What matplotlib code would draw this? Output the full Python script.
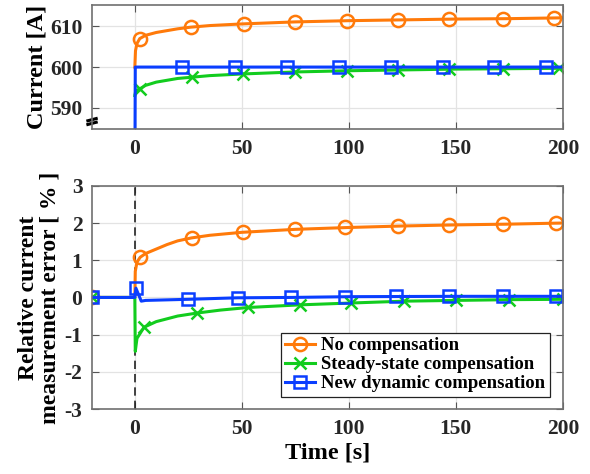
import matplotlib
matplotlib.use("Agg")
import matplotlib.pyplot as plt
from matplotlib.lines import Line2D

plt.rcParams['font.family'] = ['Liberation Serif', 'DejaVu Serif']
plt.rcParams['font.weight'] = 'bold'
plt.rcParams['mathtext.default'] = 'regular'

C_OR = '#FF7A0A'
C_GR = '#12CC1E'
C_BL = '#0A3EFF'

labels = ['No compensation', 'Steady-state compensation', 'New dynamic compensation']

# ---- Top panel: current [A] ----
top_or_t = [0, 0.3, 1, 2.3, 5, 10, 20, 26, 35, 50, 75, 100, 125, 150, 175, 200]
top_or_v = [600, 604.0, 605.8, 607.0, 607.8, 608.5, 609.4, 609.8, 610.2, 610.6, 611.1, 611.4, 611.6, 611.8, 611.9, 612.1]
top_or_mt = [2.3, 26.4, 51, 75, 99, 123, 147, 172, 196]
top_or_mv = [607.0, 609.8, 610.6, 611.1, 611.4, 611.6, 611.8, 611.9, 612.1]

top_gr_t = [0, 0.3, 1, 2.5, 5, 10, 20, 26.5, 35, 50, 75, 100, 125, 150, 175, 200]
top_gr_v = [593.0, 593.8, 594.3, 594.7, 595.5, 596.3, 597.2, 597.5, 597.9, 598.3, 598.8, 599.1, 599.3, 599.5, 599.6, 599.7]
top_gr_mt = [2.5, 26.5, 50.5, 75, 99, 123, 147, 172, 198]
top_gr_mv = [594.7, 597.5, 598.3, 598.8, 599.1, 599.3, 599.5, 599.6, 599.7]

top_bl_t = [0, 0.2, 200]
top_bl_v = [570, 600, 600]
top_bl_mt = [22, 47, 71, 95.5, 119.5, 144, 168, 192]
top_bl_mv = [600, 600, 600, 600, 600, 600, 600, 600]

# ---- Bottom panel: relative error [%] ----
bot_or_t = [-20, 0, 0.2, 1, 2.5, 5, 10, 15, 20, 26.5, 35, 50, 75, 100, 125, 150, 175, 200]
bot_or_v = [0, 0, 0.7, 0.95, 1.08, 1.18, 1.3, 1.42, 1.52, 1.6, 1.67, 1.75, 1.83, 1.88, 1.92, 1.95, 1.97, 2.0]
bot_or_mt = [-20, 2.5, 26.5, 50.5, 75, 98, 123, 147, 172, 197]
bot_or_mv = [0, 1.08, 1.6, 1.75, 1.83, 1.88, 1.92, 1.95, 1.97, 2.0]

bot_gr_t = [-20, 0, 0.2, 1, 4.3, 10, 20, 29, 40, 53, 77, 101, 126, 150, 175, 200]
bot_gr_v = [0, 0, -1.45, -1.1, -0.8, -0.65, -0.5, -0.42, -0.34, -0.27, -0.2, -0.15, -0.1, -0.08, -0.06, -0.05]
bot_gr_mt = [-20, 4.3, 29, 53, 77, 101, 126, 150, 175, 200]
bot_gr_mv = [0, -0.8, -0.42, -0.27, -0.2, -0.15, -0.1, -0.08, -0.06, -0.05]

bot_bl_t = [-20, 0, 0.5, 3, 5, 25, 48, 73, 100, 150, 200]
bot_bl_v = [0, 0, 0.25, -0.1, -0.08, -0.05, -0.01, 0.0, 0.02, 0.03, 0.03]
bot_bl_mt = [-20, 0.5, 25, 48, 73, 98, 122, 147, 172, 197]
bot_bl_mv = [0, 0.25, -0.05, -0.01, 0.0, 0.02, 0.03, 0.03, 0.03, 0.03]

xticks = [0, 50, 100, 150, 200]
top_yticks = [590, 600, 610]
bot_yticks = [-3, -2, -1, 0, 1, 2, 3]

fig = plt.figure(figsize=(5.9, 4.74), dpi=100)
ax1 = fig.add_axes([0.156, 0.728, 0.798, 0.261])
ax2 = fig.add_axes([0.156, 0.137, 0.798, 0.471])

lw = 2.2
ms_c, ms_s, ms_x = 9.5, 8.5, 8
mew = 1.8
TICK_FS = 15.5

def style(ax):
    ax.grid(True, color='#E3E3E3', linewidth=0.9)
    ax.set_axisbelow(True)
    for s in ax.spines.values():
        s.set_color('#707070')
        s.set_linewidth(1.2)
    ax.tick_params(direction='in', top=True, right=True, length=5,
                   colors='#555555', labelcolor='#262626', labelsize=TICK_FS, pad=7)
    for lab in ax.get_xticklabels() + ax.get_yticklabels():
        lab.set_fontweight('bold')

# top
ax1.plot(top_or_t, top_or_v, color=C_OR, lw=lw)
ax1.plot(top_or_mt, top_or_mv, ls='none', marker='o', ms=ms_c, mfc='none', mec=C_OR, mew=mew)
ax1.plot(top_gr_t, top_gr_v, color=C_GR, lw=lw)
ax1.plot(top_gr_mt, top_gr_mv, ls='none', marker='x', ms=ms_x, mec=C_GR, mew=mew)
ax1.plot(top_bl_t, top_bl_v, color=C_BL, lw=lw)
ax1.plot(top_bl_mt, top_bl_mv, ls='none', marker='s', ms=ms_s, mfc='none', mec=C_BL, mew=mew)
ax1.set_xlim(-20, 200)
ax1.set_ylim(584.8, 615.2)
ax1.set_xticks(xticks)
ax1.set_yticks(top_yticks)
ax1.set_ylabel('Current [A]', fontsize=17.5, fontweight='bold', labelpad=2)
style(ax1)
# axis break mark
for yc in (0.045, 0.075):
    ax1.plot([-0.012, 0.012], [yc - 0.012, yc + 0.012], transform=ax1.transAxes,
             color='black', lw=2.2, clip_on=False, solid_capstyle='butt')

# bottom
ax2.axvline(0, color='#222222', lw=1.2, ls=(0, (5, 3)))
ax2.plot(bot_or_t, bot_or_v, color=C_OR, lw=lw)
ax2.plot(bot_or_mt, bot_or_mv, ls='none', marker='o', ms=ms_c, mfc='none', mec=C_OR, mew=mew)
ax2.plot(bot_gr_t, bot_gr_v, color=C_GR, lw=lw)
ax2.plot(bot_gr_mt, bot_gr_mv, ls='none', marker='x', ms=ms_x, mec=C_GR, mew=mew)
ax2.plot(bot_bl_t, bot_bl_v, color=C_BL, lw=lw)
ax2.plot(bot_bl_mt, bot_bl_mv, ls='none', marker='s', ms=ms_s, mfc='none', mec=C_BL, mew=mew)
ax2.set_xlim(-20, 200)
ax2.set_ylim(-3, 3)
ax2.set_xticks(xticks)
ax2.set_yticks(bot_yticks)
ax2.set_yticklabels([str(v) for v in bot_yticks])
ax2.set_xlabel('Time [s]', fontsize=17.5, fontweight='bold', labelpad=3)
ax2.set_ylabel('Relative current\nmeasurement error [ % ]', fontsize=17,
               fontweight='bold', labelpad=3, linespacing=1.0)
style(ax2)

handles = [
    Line2D([], [], color=C_OR, lw=lw, marker='o', ms=ms_c, mfc='none', mec=C_OR, mew=mew),
    Line2D([], [], color=C_GR, lw=lw, marker='x', ms=ms_x, mec=C_GR, mew=mew),
    Line2D([], [], color=C_BL, lw=lw, marker='s', ms=ms_s, mfc='none', mec=C_BL, mew=mew),
]
leg = ax2.legend(handles, labels, loc='lower right', bbox_to_anchor=(0.972, 0.054),
                 prop={'weight': 'bold', 'size': 13.5},
                 frameon=True, fancybox=False, framealpha=1, edgecolor='#222222',
                 handlelength=1.6, handletextpad=0.3, borderpad=0.25,
                 labelspacing=0.1, borderaxespad=0.0)
leg.get_frame().set_linewidth(0.9)

fig.savefig('out.png', dpi=100)
